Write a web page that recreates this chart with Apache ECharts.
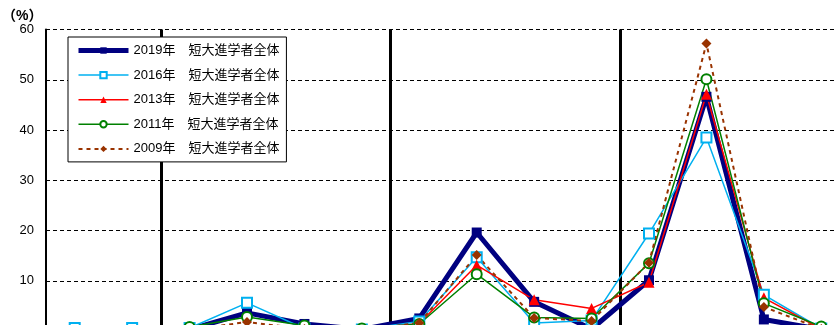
<!DOCTYPE html>
<html><head><meta charset="utf-8">
<script src="https://cdn.jsdelivr.net/npm/echarts@6/dist/echarts.min.js"></script>
<style>html,body{margin:0;padding:0;background:#fff;overflow:hidden}#c{width:850px;height:331px}</style>
</head><body><div id="c"></div>
<script>
const categories = ['区分1','区分2','区分3','区分4','区分5','区分6','区分7','区分8','区分9','区分10','区分11','区分12','区分13','区分14'];
const seriesNames = ['2019年　短大進学者全体','2016年　短大進学者全体','2013年　短大進学者全体','2011年　短大進学者全体','2009年　短大進学者全体'];
const y2019 = [null, null, 0.3, 3.6, 1.4, 0.3, 2.5, 19.6, 5.8, 0.4, 10.1, 46.6, 2.3, 0.3];
const y2016 = [0.6, 0.6, 0.6, 5.6, 0.5, 0.3, 1.9, 14.7, 1.6, 2.1, 19.4, 38.5, 7.2, 0.5];
const y2013 = [null, null, 0.2, 1.0, 0.3, 0.2, 1.5, 13.1, 6.2, 4.5, 9.7, 47.1, 6.6, 0.4];
const y2011 = [null, null, 0.8, 2.8, 1.1, 0.5, 1.4, 11.3, 2.7, 2.5, 13.5, 50.1, 5.5, 0.9];
const y2009 = [null, null, 0.2, 1.8, 0.4, 0.2, 1.6, 15.1, 2.6, 2.0, 13.6, 57.2, 4.8, 0.4];
const yTicks = [0, 10, 20, 30, 40, 50, 60];
const dividerIdx = [2, 6, 10];

const FF = "'Liberation Sans', 'Noto Sans CJK JP', sans-serif";
const lineWidths = [5, 1.5, 1.5, 1.5, 2];
const chart = echarts.init(document.getElementById('c'));
chart.setOption({
  animation: false,
  title: { text: '（%）', left: -3, top: 4, textStyle: { fontFamily: FF, fontSize: 14, fontWeight: 'bold', color: '#000' } },
  grid: { left: 46, top: 29.5, right: 0, bottom: 0, containLabel: false, outerBoundsMode: 'none' },
  xAxis: {
    type: 'category', data: categories, boundaryGap: true,
    axisLine: { show: false }, axisTick: { show: false }, axisLabel: { show: false },
    splitLine: { show: true, interval: (i) => dividerIdx.includes(i), lineStyle: { color: '#000', width: 3, type: 'solid' } }
  },
  yAxis: {
    type: 'value', min: yTicks[0], max: yTicks[yTicks.length - 1], interval: 10,
    axisLine: { show: true, lineStyle: { color: '#000', width: 2 } },
    axisTick: { show: false },
    axisLabel: { color: '#000', fontFamily: FF, fontSize: 13, margin: 12 },
    splitLine: { show: true, lineStyle: { color: '#000', width: 1, type: [4, 3] } }
  },
  legend: {
    orient: 'vertical', left: 68, top: 37,
    backgroundColor: '#fff', borderColor: '#000', borderWidth: 1,
    padding: [6.5, 7, 6, 8], itemWidth: 50, itemHeight: 8, itemGap: 10.6,
    textStyle: { fontFamily: FF, fontSize: 13, color: '#000', lineHeight: 14 },
    data: seriesNames.map((n, i) => ({ name: n, lineStyle: { width: lineWidths[i] } }))
  },
  series: [
    { name: seriesNames[0], type: 'line', data: y2019, symbol: 'rect', symbolSize: 10,
      lineStyle: { color: '#000080', width: lineWidths[0] }, itemStyle: { color: '#000080' } },
    { name: seriesNames[1], type: 'line', data: y2016, symbol: 'emptyRect', symbolSize: 10,
      lineStyle: { color: '#00B0F0', width: lineWidths[1] }, itemStyle: { color: '#00B0F0', borderWidth: 1.5 } },
    { name: seriesNames[2], type: 'line', data: y2013, symbol: 'triangle', symbolSize: 11,
      lineStyle: { color: '#FF0000', width: lineWidths[2] }, itemStyle: { color: '#FF0000' } },
    { name: seriesNames[3], type: 'line', data: y2011, symbol: 'emptyCircle', symbolSize: 10,
      lineStyle: { color: '#008000', width: lineWidths[3] }, itemStyle: { color: '#008000', borderWidth: 1.5 } },
    { name: seriesNames[4], type: 'line', data: y2009, symbol: 'diamond', symbolSize: 10,
      lineStyle: { color: '#993300', width: lineWidths[4], type: [4, 4] }, itemStyle: { color: '#993300' } }
  ]
});
</script></body></html>
